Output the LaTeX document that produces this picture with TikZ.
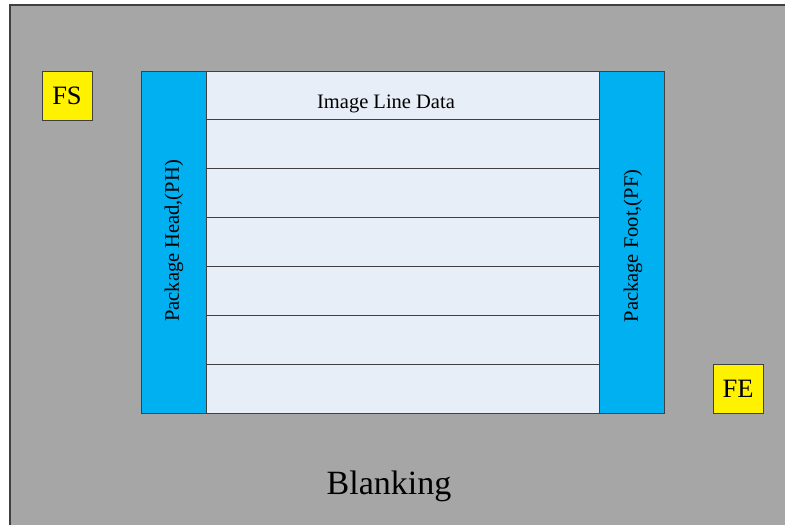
\documentclass[tikz,border=0pt]{standalone}
\usepackage{fontspec}
\setmainfont{Liberation Serif}
\definecolor{bggray}{HTML}{A6A6A6}
\definecolor{pblue}{HTML}{00B0F0}
\definecolor{rowfill}{HTML}{E8EEF8}
\definecolor{edge}{HTML}{404040}
\tikzset{
  box/.style={draw=edge, line width=1pt, inner sep=0pt, outer sep=0pt},
  marker/.style={box, fill=yellow, minimum width=50pt, minimum height=49pt, font=\fontsize{26.5}{30}\selectfont},
  pack/.style={box, fill=pblue, minimum width=65pt, minimum height=342pt, font=\fontsize{20.5}{24}\selectfont},
  datarow/.style={box, fill=rowfill, minimum width=393pt, minimum height=342pt/7},
}
\begin{document}
\begin{tikzpicture}[x=1pt,y=-1pt]
\useasboundingbox (0,0) rectangle (785,525);
\fill[bggray] (10,5) rectangle (785,525);
\draw[edge, line width=1.2pt] (10,525) -- (10,5) -- (785,5);
% data rows
\foreach \i in {0,...,6} {
  \node[datarow, anchor=north west] (row\i) at (206,{71+\i*342/7}) {};
}
\node[font=\fontsize{20.5}{24}\selectfont] (ild) at (386,104) {Image Line Data};
\node[pack, anchor=north west] (ph) at (141,71) {};
\node[rotate=90, font=\fontsize{20.5}{24}\selectfont] (phl) at (174,241) {Package Head,(PH)};
\node[pack, anchor=north west] (pf) at (599,71) {};
\node[rotate=90, font=\fontsize{20.5}{24}\selectfont] (pfl) at (633,246) {Package Foot,(PF)};
\node[marker, anchor=north west] (fs) at (42,71) {FS};
\node[marker, anchor=north west] (fe) at (713,364) {FE};
\node[font=\fontsize{34}{40}\selectfont] (blank) at (389,486) {Blanking};
\end{tikzpicture}
\end{document}
